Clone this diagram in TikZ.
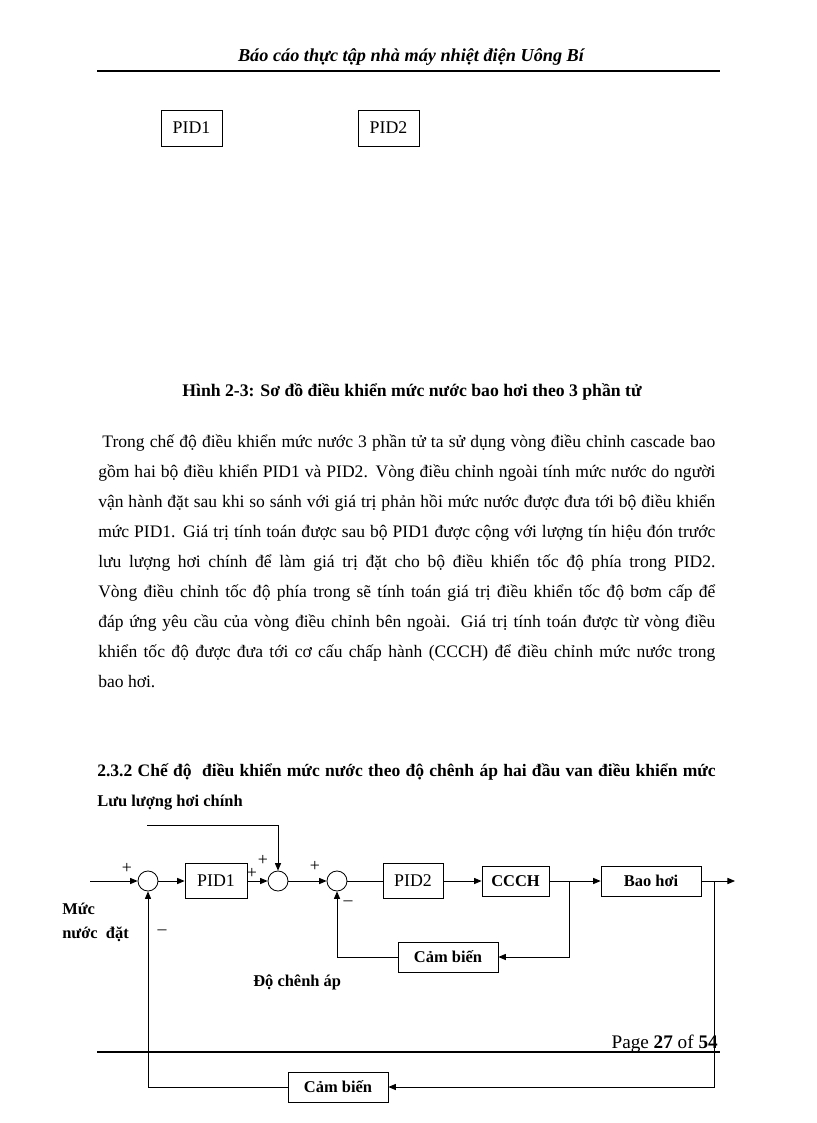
\documentclass[tikz,border=0pt]{standalone}
\usepackage{fontspec}
\setmainfont{Liberation Serif}
\usepackage{tikz}
\usetikzlibrary{arrows.meta}

\begin{document}
\begin{tikzpicture}[x=0.7292pt, y=-0.7292pt, font=\fontsize{12}{14}\selectfont,
    blk/.style={draw, line width=0.6pt, inner sep=0pt, minimum width=72.9pt, minimum height=21.9pt, font=\fontsize{12}{14}\selectfont\bfseries},
    pid/.style={draw, line width=0.6pt, inner sep=0pt, minimum width=44.5pt, minimum height=25.5pt, font=\fontsize{13}{15}\selectfont},
    sum/.style={draw, circle, line width=0.6pt, inner sep=0pt, minimum size=14.6pt},
    sign/.style={inner sep=0pt, font=\fontsize{13}{15}\selectfont},
    lbl/.style={anchor=west, inner sep=0pt, font=\fontsize{12}{14}\selectfont\bfseries},
    flow/.style={-{Triangle[length=5.5pt, width=4.5pt]}, line width=0.6pt},
    wire/.style={line width=0.6pt}]
  \useasboundingbox (0,0) rectangle (816,1123);
  % page header
  \node[font=\fontsize{13.3}{15}\selectfont\bfseries\itshape] (head) at (411,57) {Báo cáo thực tập nhà máy nhiệt điện Uông Bí};
  \draw[line width=1.2pt] (97,71) -- (720,71);
  \node[pid, minimum height=26.25pt] (pidtop1) at (191.5,128) {PID1};
  \node[pid, minimum height=26.25pt] (pidtop2) at (388.5,128) {PID2};
  \node[font=\fontsize{12.9}{15}\selectfont\bfseries] (cap) at (412,392) {Hình 2-3: Sơ đồ điều khiển mức nước bao hơi theo 3 phần tử};
  \node[anchor=north west, text width=450pt, align=justify, inner sep=0pt, font=\fontsize{12.8}{21.875}\selectfont] (para) at (98,435)
    {\hspace*{3pt}Trong chế độ điều khiển mức nước 3 phần tử ta sử dụng vòng điều chỉnh cascade bao\linebreak
     gồm hai bộ điều khiển PID1 và PID2. Vòng điều chỉnh ngoài tính mức nước do người\linebreak
     vận hành đặt sau khi so sánh với giá trị phản hồi mức nước được đưa tới bộ điều khiển\linebreak
     mức PID1. Giá trị tính toán được sau bộ PID1 được cộng với lượng tín hiệu đón trước\linebreak
     lưu lượng hơi chính để làm giá trị đặt cho bộ điều khiển tốc độ phía trong PID2.\linebreak
     Vòng điều chỉnh tốc độ phía trong sẽ tính toán giá trị điều khiển tốc độ bơm cấp để\linebreak
     đáp ứng yêu cầu của vòng điều chỉnh bên ngoài. Giá trị tính toán được từ vòng điều\linebreak
     khiển tốc độ được đưa tới cơ cấu chấp hành (CCCH) để điều chỉnh mức nước trong\linebreak
     bao hơi.};
  \node[lbl, font=\fontsize{12.8}{15}\selectfont\bfseries] (sec) at (97,772) {\makebox[451pt][s]{2.3.2 Chế độ\ \ điều khiển mức nước theo độ chênh áp hai đầu van điều khiển mức}};
  \node[lbl] (steam) at (97,803) {Lưu lượng hơi chính};
  % block diagram
  \node[sum] (s1) at (148,881) {};
  \node[pid, minimum width=45.2pt] (pid1) at (216,881) {PID1};
  \node[sum] (s2) at (278,881) {};
  \node[sum] (s3) at (337,881) {};
  \node[pid, minimum width=43.75pt] (pid2) at (413,881) {PID2};
  \node[blk, minimum width=48.9pt] (ccch) at (515.5,881) {CCCH};
  \node[blk] (bao) at (651,881) {Bao hơi};
  \node[blk] (cb1) at (448,957) {Cảm biến};
  \node[blk] (cb2) at (338,1087) {Cảm biến};
  \node[sign] (p1) at (127,868) {+};
  \node[sign] (m1) at (162,932) {--};
  \node[sign] (p2) at (252,873) {+};
  \node[sign] (p3) at (263,860) {+};
  \node[sign] (p4) at (315,866) {+};
  \node[sign] (m2) at (348,903) {--};
  \node[anchor=north west, inner sep=0pt, align=left, font=\fontsize{12}{17.5}\selectfont\bfseries] (setp) at (62,903) {Mức\\nước\ \ đặt};
  \node[lbl] (dp) at (253,982) {Độ chênh áp};
  \coordinate (in) at (90,881);
  \coordinate (ff) at (147,825);
  \coordinate (b1) at (569,881);
  \coordinate (b2) at (714,881);
  \coordinate (out) at (735,881);
  \draw[flow] (in) -- (s1);
  \draw[flow] (s1) -- (pid1);
  \draw[flow] (pid1) -- (s2);
  \draw[flow] (ff) -| (s2);
  \draw[flow] (s2) -- (s3);
  \draw[wire] (s3) -- (pid2);
  \draw[flow] (pid2) -- (ccch);
  \draw[flow] (ccch) -- (bao);
  \draw[flow] (b1) |- (cb1);
  \draw[flow] (cb1) -| (s3);
  \draw[flow] (bao) -- (out);
  \draw[flow] (b2) |- (cb2);
  \draw[flow] (cb2) -| (s1);
  % page footer
  \draw[line width=1.5pt] (97,1052) -- (720,1052);
  \node[anchor=base east, inner sep=0pt, font=\fontsize{14}{16}\selectfont] (page) at (718,1048) {Page \textbf{27} of \textbf{54}};
\end{tikzpicture}
\end{document}
